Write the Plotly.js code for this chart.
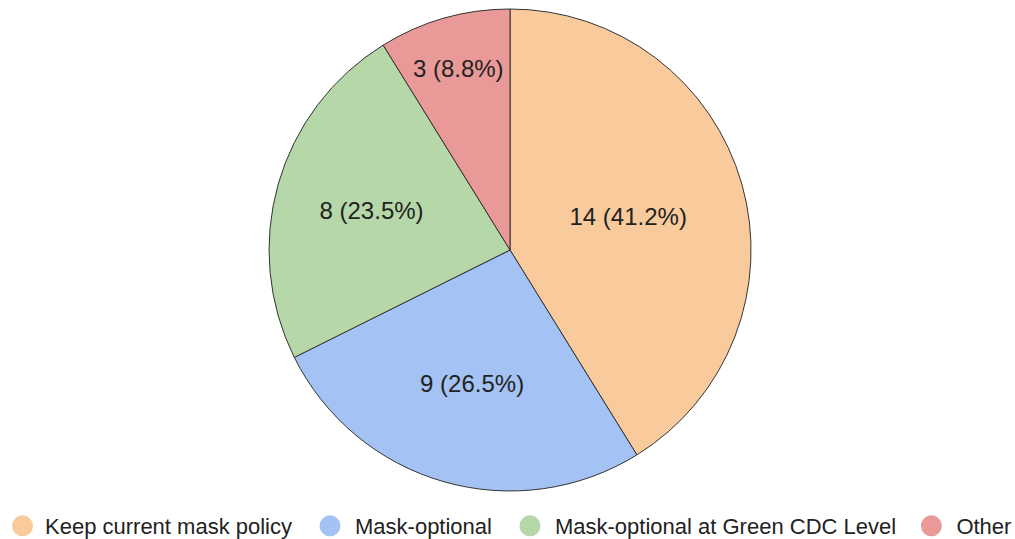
<!DOCTYPE html>
<html>
<head>
<meta charset="utf-8">
<script src="https://cdn.plot.ly/plotly-3.0.1.min.js"></script>
<style>html,body{margin:0;padding:0;background:#fff;}#chart{width:1015px;height:539px;}</style>
</head>
<body>
<div id="chart"></div>
<script>
var categories = ["Keep current mask policy", "Mask-optional", "Mask-optional at Green CDC Level", "Other"];
var counts = [14, 9, 8, 3];
var colors = ["#F9CB9C", "#A4C2F4", "#B6D7A8", "#EA9999"];

var total = counts.reduce(function(a, b){ return a + b; }, 0);
var labelsText = counts.map(function(v){ return v + " (" + (100 * v / total).toFixed(1) + "%)"; });

var FONT = "Liberation Sans, Arial, sans-serif";
var legendIds = ["legend", "legend2", "legend3", "legend4"];
var legendX = [0.0, 0.3005, 0.4975, 0.8930];
var legendItemWidth = [35, 40, 40, 40];

var traces = [{
  type: "pie",
  labels: categories,
  values: counts,
  text: labelsText,
  textinfo: "text",
  textposition: "inside",
  insidetextorientation: "horizontal",
  sort: false,
  direction: "clockwise",
  rotation: 0,
  showlegend: false,
  hoverinfo: "label+value+percent",
  marker: { colors: colors, line: { color: "#333333", width: 1 } },
  textfont: { family: FONT, size: 24, color: "#222222" },
  domain: { x: [0.005, 1], y: [0.0906, 1] }
}];

categories.forEach(function(c, i){
  traces.push({
    type: "scatter",
    mode: "markers",
    x: [null], y: [null],
    name: c,
    legend: legendIds[i],
    showlegend: true,
    hoverinfo: "skip",
    marker: { symbol: "circle", size: 16, color: colors[i], line: { color: colors[i], width: 5 } }
  });
});

var layout = {
  width: 1015,
  height: 539,
  margin: { l: 0, r: 0, t: 9, b: 0, autoexpand: false },
  paper_bgcolor: "#ffffff",
  plot_bgcolor: "rgba(0,0,0,0)",
  xaxis: { visible: false },
  yaxis: { visible: false },
  showlegend: true
};

legendIds.forEach(function(id, i){
  layout[id] = {
    orientation: "h",
    xref: "container", yref: "container",
    x: legendX[i], xanchor: "left",
    y: 0.063, yanchor: "top",
    bgcolor: "rgba(0,0,0,0)",
    font: { family: FONT, size: 22, color: "#222222" },
    itemsizing: "trace",
    itemwidth: legendItemWidth[i]
  };
});

Plotly.newPlot("chart", traces, layout, { displayModeBar: false, staticPlot: true });
</script>
</body>
</html>
